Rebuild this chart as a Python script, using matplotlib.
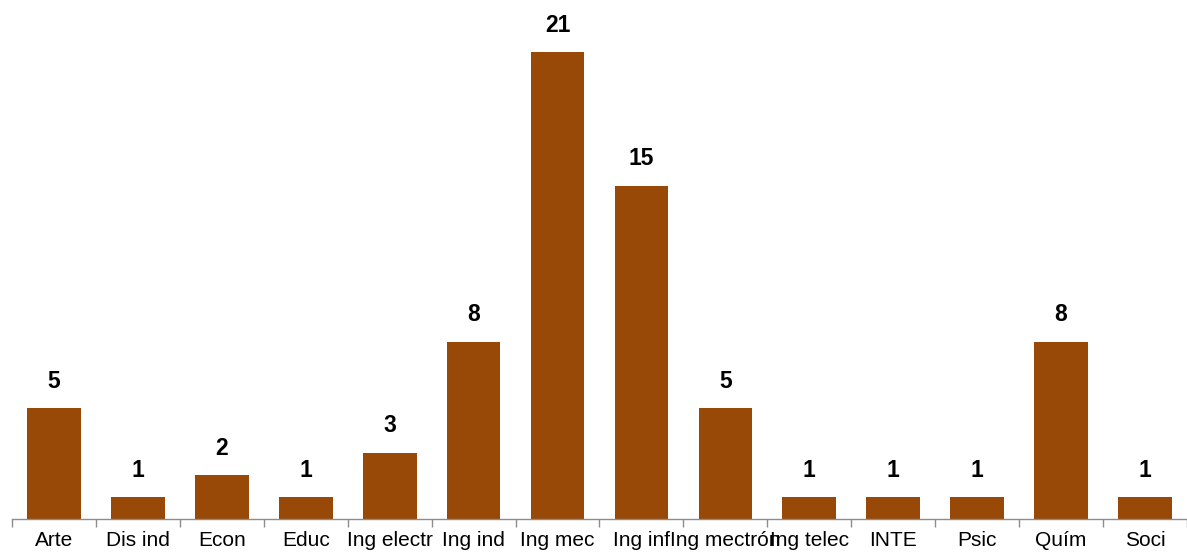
import matplotlib
matplotlib.use('Agg')
import matplotlib.pyplot as plt
import numpy as np

# Data
categories = ['Arte', 'Dis ind', 'Econ', 'Educ', 'Ing electr', 'Ing ind', 'Ing mec',
              'Ing inf', 'Ing mectrón', 'Ing telec', 'INTE', 'Psic', 'Quím', 'Soci']
counts = [5, 1, 2, 1, 3, 8, 21, 15, 5, 1, 1, 1, 8, 1]

BAR_COLOR = '#984807'
AXIS_COLOR = '#8c8c8c'

plt.rcParams['font.family'] = ['Liberation Sans', 'DejaVu Sans']

fig = plt.figure(figsize=(11.87, 5.54), dpi=100)
ax = fig.add_axes([0.0101, 0.0623, 0.9899, 0.9377])

x = np.arange(len(categories))
bars = ax.bar(x, counts, width=0.64, color=BAR_COLOR, zorder=2)

for bar, v in zip(bars, counts):
    ax.annotate(f'{v}', (bar.get_x() + bar.get_width() / 2, v),
                xytext=(0, 11), textcoords='offset points',
                ha='center', va='bottom', fontsize=16.5, fontweight='bold')

ax.set_xlim(-0.5, len(categories) - 0.5)
ax.set_ylim(0, 23.35)

# tick marks at category boundaries, labels at centres
ax.set_xticks(np.arange(-0.5, len(categories)), labels=[])
ax.set_xticks(x, labels=categories, minor=True)
ax.tick_params(axis='x', which='major', direction='out', length=6, width=1, color=AXIS_COLOR)
ax.tick_params(axis='x', which='minor', length=0, pad=8, labelsize=15)
ax.set_yticks([])

for s in ['top', 'right', 'left']:
    ax.spines[s].set_visible(False)
ax.spines['bottom'].set_color(AXIS_COLOR)
ax.spines['bottom'].set_linewidth(1)

fig.savefig('out.png', dpi=100)
